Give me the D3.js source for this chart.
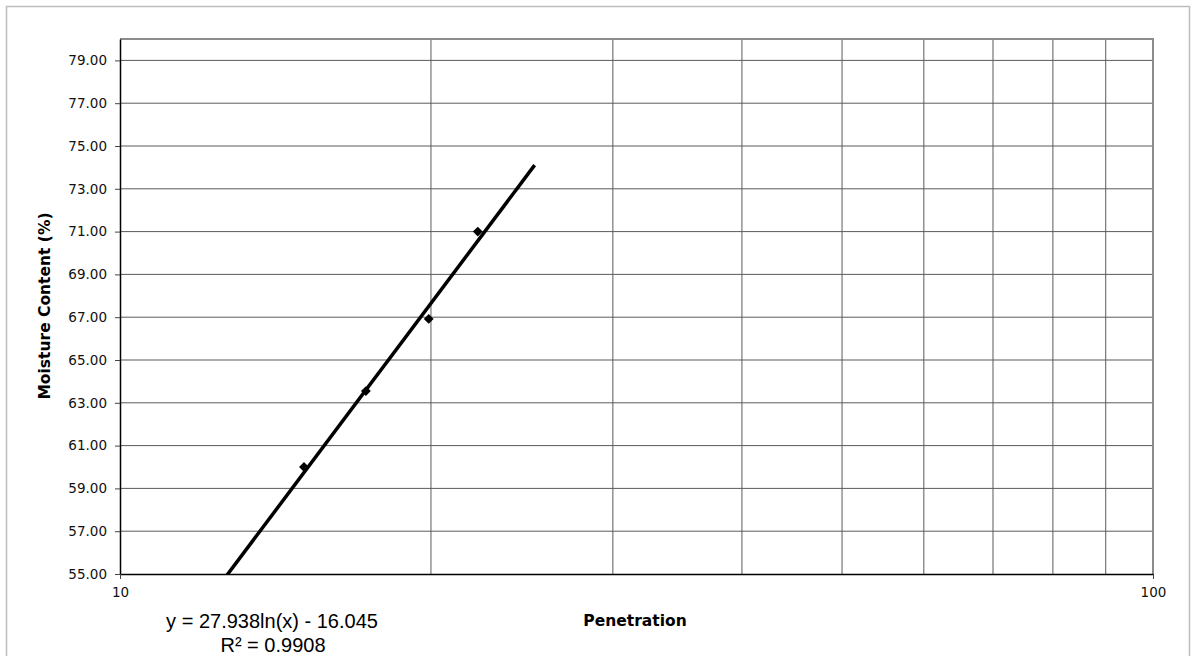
<!DOCTYPE html>
<html>
<head>
<meta charset="utf-8">
<script src="https://cdn.jsdelivr.net/npm/d3@7"></script>
<style>
  body { margin: 0; background: #fff; }
  svg { display: block; }
</style>
</head>
<body>
<svg id="chart" width="1195" height="656"></svg>
<script>
// Penetration test readings
var penetration = [15.07, 17.3, 19.9, 22.2];
var moisture = [60.0, 63.55, 66.92, 71.0];

// y axis ticks and log x axis labels
var yTicks = [55, 57, 59, 61, 63, 65, 67, 69, 71, 73, 75, 77, 79];
var xGrid = [20, 30, 40, 50, 60, 70, 80, 90];
var xLabels = [10, 100];

// log trendline as printed on the chart, and the span it is drawn over
var trendA = 27.938, trendB = -16.045, trendR2 = 0.9908;
var trendSpan = [12.0, 25.2];

function drawChart() {
  var svg = d3.select("#chart");
  // note: "top" is taken by window.top, so keep these local
  var pLeft = 120, pRight = 1153, pTop = 39, pBottom = 574;

  var x = d3.scaleLog().domain([10, 100]).range([pLeft, pRight]);
  var y = d3.scaleLinear().domain([55, 80]).range([pBottom, pTop]);

  var axisFont = "'DejaVu Sans', Verdana, sans-serif";

  // outer chart frame
  svg.append("rect")
    .attr("x", 6.5).attr("y", 6.5)
    .attr("width", 1183).attr("height", 660)
    .attr("fill", "#fff")
    .attr("stroke", "#bdbdbd")
    .attr("stroke-width", 1.5);

  // horizontal grid
  svg.append("g")
    .selectAll("line")
    .data(yTicks.slice(1))
    .join("line")
    .attr("x1", pLeft).attr("x2", pRight)
    .attr("y1", d => y(d)).attr("y2", d => y(d))
    .attr("stroke", "#5a5a5a")
    .attr("stroke-width", 1);

  // vertical grid
  svg.append("g")
    .selectAll("line")
    .data(xGrid)
    .join("line")
    .attr("x1", d => x(d)).attr("x2", d => x(d))
    .attr("y1", pTop).attr("y2", pBottom)
    .attr("stroke", "#5a5a5a")
    .attr("stroke-width", 1);

  // plot area top / right edges
  svg.append("path")
    .attr("d", "M" + pLeft + "," + pTop + "H" + pRight + "V" + pBottom)
    .attr("fill", "none")
    .attr("stroke", "#8c8c8c")
    .attr("stroke-width", 2);

  // y axis
  var yAxis = svg.append("g")
    .attr("transform", "translate(" + pLeft + ",0)")
    .call(d3.axisLeft(y).tickValues(yTicks).tickFormat(d3.format(".2f"))
      .tickSizeInner(5).tickSizeOuter(0).tickPadding(8));
  yAxis.select(".domain").attr("stroke", "#000").attr("stroke-width", 1.5);
  yAxis.selectAll(".tick line").attr("stroke", "#444");
  yAxis.selectAll("text")
    .attr("font-family", axisFont)
    .attr("font-size", 13.5)
    .attr("fill", "#111");

  // x axis
  var xAxis = svg.append("g")
    .attr("transform", "translate(0," + pBottom + ")")
    .call(d3.axisBottom(x).tickValues(xLabels).tickFormat(d3.format("d"))
      .tickSizeInner(5).tickSizeOuter(0).tickPadding(8));
  xAxis.select(".domain").attr("stroke", "#000").attr("stroke-width", 1.5);
  xAxis.selectAll(".tick line").attr("stroke", "#444");
  xAxis.selectAll("text")
    .attr("font-family", axisFont)
    .attr("font-size", 13.5)
    .attr("fill", "#111");

  // trendline, clipped to the plot area
  svg.append("clipPath").attr("id", "plotClip")
    .append("rect")
    .attr("x", pLeft).attr("y", pTop)
    .attr("width", pRight - pLeft).attr("height", pBottom - pTop);

  var trendPts = trendSpan.map(function(p) { return [p, trendA * Math.log(p) + trendB]; });
  svg.append("path")
    .datum(trendPts)
    .attr("clip-path", "url(#plotClip)")
    .attr("d", d3.line().x(d => x(d[0])).y(d => y(d[1])))
    .attr("fill", "none")
    .attr("stroke", "#000")
    .attr("stroke-width", 3.5);

  // markers
  var diamond = d3.symbol().type(d3.symbolSquare).size(48);
  svg.append("g")
    .selectAll("path")
    .data(penetration)
    .join("path")
    .attr("d", diamond)
    .attr("transform", (d, i) => "translate(" + x(d) + "," + y(moisture[i]) + ") rotate(45)")
    .attr("fill", "#000");

  // axis titles
  svg.append("text")
    .attr("x", 635).attr("y", 626)
    .attr("text-anchor", "middle")
    .attr("font-family", axisFont)
    .attr("font-weight", "bold")
    .attr("font-size", 15.5)
    .text("Penetration");

  svg.append("text")
    .attr("transform", "translate(50,306) rotate(-90)")
    .attr("text-anchor", "middle")
    .attr("font-family", axisFont)
    .attr("font-weight", "bold")
    .attr("font-size", 15.5)
    .text("Moisture Content (%)");

  // trendline label
  var eq = svg.append("text")
    .attr("text-anchor", "middle")
    .attr("font-family", "'Liberation Sans', Arial, sans-serif")
    .attr("font-size", 20)
    .attr("fill", "#000");
  eq.append("tspan").attr("x", 272).attr("y", 628)
    .text("y = " + trendA + "ln(x) - " + Math.abs(trendB).toFixed(3));
  eq.append("tspan").attr("x", 273).attr("y", 652)
    .text("R² = " + trendR2);
}

drawChart();
</script>
</body>
</html>
